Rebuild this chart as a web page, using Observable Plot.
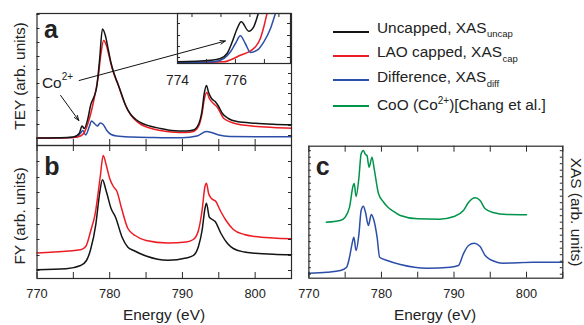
<!DOCTYPE html>
<html><head><meta charset="utf-8">
<script src="https://cdn.jsdelivr.net/npm/d3@7"></script>
<script src="https://cdn.jsdelivr.net/npm/@observablehq/plot@0.6"></script>
<style>
body{margin:0;background:#fff;font-family:"Liberation Sans",Arial,sans-serif;color:#222}
#root{position:relative;width:584px;height:325px;overflow:hidden;background:#fff}
.abs{position:absolute;white-space:nowrap;line-height:1}
.sw{position:absolute;height:2px;width:36px}
</style></head><body><div id="root"></div>
<script>
// ---------- ticks ----------
const xMajor = [770, 775, 780, 785, 790, 795, 800, 805];
const xLabels = [770, 780, 790, 800];
const insetBottomTicks = [775, 776, 777];
const insetTopTicks = [774.5, 775.5, 776.5, 777.5];
const insetLabels = [774, 776];
const yTicksA_left = [7, 21, 35, 48, 62, 76, 89, 103, 117, 131];
const yTicksA_right = [10, 20, 31, 41, 52, 62, 72];
const yTicksB = [8, 23, 39, 54, 70, 86, 101, 117];
const yTicksC = [4, 10.5, 17, 23.5, 30, 36.5, 43, 49.5, 56, 62.5, 69, 75.5, 82, 88.5, 95, 101.5, 108, 114.5, 121, 127.5];
const yTicksInset = [6, 17, 28, 40];

// ---------- panel a: TEY ----------
const eA_uncap = [770, 773, 775, 775.8, 776.2, 776.5, 777.0, 777.4, 777.8, 778.2, 778.6, 779.0, 779.4, 779.8, 780.2, 780.6, 781.0, 781.6, 782.2, 782.9, 783.6, 784.5, 785.5, 787, 788.5, 790.5, 791.5, 792.2, 792.7, 793.0, 793.3, 793.6, 794.0, 794.5, 794.9, 795.5, 796.3, 797.5, 800, 802.5, 805];
const teyUncap = [7.5, 7.8, 8.5, 12, 19.5, 17, 27, 41, 48, 58, 85, 116.5, 110, 96, 82, 72, 64, 52, 40, 31, 26, 22, 19.5, 17, 15, 14.5, 15.5, 21, 35, 52, 60, 53, 47, 44, 40, 32, 27, 24, 22.3, 21.3, 20.7];
const eA_cap = [770, 775, 776, 776.5, 777.0, 777.5, 778.0, 778.4, 778.8, 779.15, 779.5, 779.9, 780.3, 780.7, 781.2, 781.8, 782.5, 783.3, 784.3, 785.5, 787, 788.5, 790.5, 791.5, 792.2, 792.7, 793.0, 793.35, 793.7, 794.3, 794.8, 795.7, 797.1, 799.8, 802.5, 805];
const teyCap = [7.5, 8, 9.5, 13, 22, 35, 52, 68, 92, 105, 101, 90, 78, 69, 60, 47, 35, 27, 21, 17.5, 15, 13.5, 13, 14, 19, 32, 46, 53, 47, 41.7, 38.3, 27, 22.3, 19.3, 18, 17.3];
const eA_diff = [770, 774, 775.5, 776.0, 776.3, 776.7, 777.2, 777.5, 777.9, 778.3, 778.7, 779.1, 779.6, 780.2, 781, 783, 786, 790, 792, 793.3, 794, 795, 796.5, 800, 805];
const teyDiff = [7.2, 7.7, 8.5, 12.5, 15, 10.5, 19, 24.5, 22, 19.5, 22.5, 21, 15, 11, 9.5, 8.5, 8, 7.7, 9.5, 14, 13, 10.5, 9, 8.8, 8.8];

// ---------- inset ----------
const eI_uncap = [774.0, 775.14, 775.48, 775.71, 775.89, 776.06, 776.2, 776.46, 776.63, 776.77, 776.85];
const vI_uncap = [1.7, 3.3, 5, 10, 21.7, 35, 41.7, 32.3, 36.7, 48.3, 56];
const eI_cap = [774.0, 775.6, 775.94, 776.17, 776.46, 776.69, 776.86, 776.98, 777.09, 777.2];
const vI_cap = [0.7, 1.7, 5, 8.3, 11.7, 16.7, 25, 36.7, 50, 60];
const eI_diff = [774.0, 775.25, 775.6, 775.83, 776.0, 776.17, 776.34, 776.52, 776.75, 776.98, 777.21, 777.38, 777.5];
const vI_diff = [0.7, 1.7, 5, 11.7, 20, 27.7, 20, 11, 13.3, 21.7, 35, 50, 60];

// ---------- panel b: FY ----------
const eB_cap = [770, 776, 776.7, 777.4, 778.0, 778.7, 779.1, 779.5, 780.0, 780.5, 781.0, 781.6, 782.5, 783.5, 785, 788, 790.5, 791.5, 792.2, 792.7, 793.1, 793.3, 793.6, 794.0, 794.6, 795.2, 796.0, 797, 798.5, 800, 802.5, 805];
const fyCap = [25.5, 28.7, 32, 48, 64.7, 102, 123, 114, 100, 92, 87, 71, 50, 43, 38, 35.5, 36.5, 39, 48, 68, 92, 95.3, 85, 80, 77, 68, 58, 49, 44, 42, 40.5, 39.7];
const eB_uncap = [770, 774, 776, 776.8, 777.4, 778.1, 778.6, 779.0, 779.5, 780.2, 780.8, 781.7, 782.5, 783.3, 785, 788, 790.5, 791.5, 792.2, 792.7, 793.1, 793.3, 793.7, 794.0, 794.5, 795.3, 796.2, 797, 798.5, 800, 802.5, 805];
const fyUncap = [8.7, 9.7, 13, 18, 29.7, 54.7, 84.7, 98.7, 88, 69.7, 61.3, 41.3, 31.3, 28, 22.5, 18.2, 20.5, 23, 32, 48, 70, 75.3, 61.3, 59.5, 57, 45, 35, 30, 26.5, 25.3, 24.2, 23.7];

// ---------- panel c: XAS ----------
const eC_coo = [772.4, 774.3, 775.0, 775.6, 776.1, 776.25, 776.5, 776.9, 777.2, 777.5, 777.8, 778.0, 778.3, 778.7, 779.0, 779.6, 780.3, 780.9, 781.5, 782.6, 785, 788, 790, 791.3, 792.0, 792.9, 793.6, 794.3, 795.4, 797.3, 800];
const xasCoO = [56, 57.7, 61, 71, 92.7, 94.7, 81.7, 101, 124.4, 127.7, 123.7, 122.7, 111, 121, 109.4, 84.4, 76, 71, 67.7, 62.7, 59.4, 59, 61.7, 67.7, 75.7, 80.4, 77.7, 69.4, 65.7, 63.7, 63.5];
const eC_diff = [770, 772.5, 774.35, 775.2, 775.6, 775.95, 776.2, 776.5, 776.9, 777.2, 777.5, 777.8, 778.2, 778.6, 778.9, 779.4, 779.75, 780.8, 782.6, 786.3, 789.5, 790.6, 791.3, 792.0, 792.8, 793.6, 794.3, 795.9, 796.8, 800.9, 805];
const xasDiff = [5, 6, 7.7, 11, 21, 34.4, 41, 27.7, 44.4, 67.7, 72, 66, 52.7, 63.7, 59.4, 41, 21, 17.7, 13.7, 10, 11, 12.7, 24.4, 32.7, 35, 31.7, 22.7, 16, 15, 16, 16];

// annotation arrows (panel a data coordinates)
const coArrows = [
  {x1: 775.8, y1: 65, x2: 795.9, y2: 104.5},
  {x1: 773.25, y1: 50, x2: 775.75, y2: 25}
];

const legendItems = [
  {key: "uncap", html: 'Uncapped, XAS<span class="sub">uncap</span>'},
  {key: "cap", html: 'LAO capped, XAS<span class="sub">cap</span>'},
  {key: "diff", html: 'Difference, XAS<span class="sub">diff</span>'},
  {key: "coo", html: 'CoO (Co<span class="sup">2+</span>)[Chang et al.]'}
];
const colors = {uncap: "#141414", cap: "#ec1c24", diff: "#2c4ea8", coo: "#00934a"};

// ---------- helpers ----------
const zip = (es, vs) => es.map((e, i) => ({e, v: vs[i]}));
const root = document.getElementById("root");
const AX = "#2a2a2a";
const FONT = '"Liberation Sans", Arial, sans-serif';

function panel(o) {
  const pw = o.width - o.ml - o.mr, ph = o.height - o.mt - o.mb;
  const marks = [];
  for (const s of o.series) marks.push(Plot.line(s.data, {x: "e", y: "v", stroke: s.color, strokeWidth: 1.5, curve: "monotone-x", clip: !!o.clip}));
  marks.push(Plot.frame({stroke: AX, strokeWidth: 1.2}));
  const xl = o.xTickLen ?? 6, yl = o.yTickLen ?? 3;
  if (o.bottomTicks) marks.push(Plot.tickX(o.bottomTicks, {x: d => d, insetTop: ph - xl, stroke: AX}));
  if (o.topTicks) marks.push(Plot.tickX(o.topTicks, {x: d => d, insetBottom: ph - xl, stroke: AX}));
  if (o.leftTicks) marks.push(Plot.tickY(o.leftTicks, {y: d => d, insetRight: pw - yl, stroke: AX}));
  if (o.rightTicks) marks.push(Plot.tickY(o.rightTicks, {y: d => d, insetLeft: pw - yl, stroke: AX}));
  if (o.labels) marks.push(Plot.text(o.labels, {x: d => d, text: d => String(d), frameAnchor: "bottom", dy: o.labelDy, fontSize: o.labelSize, lineAnchor: "middle", fill: "#222"}));
  if (o.extra) marks.push(...o.extra);
  const svg = Plot.plot({
    width: o.width, height: o.height,
    marginTop: o.mt, marginRight: o.mr, marginBottom: o.mb, marginLeft: o.ml,
    x: {domain: o.xdom, axis: null},
    y: {domain: o.ydom, axis: null},
    style: {background: "transparent", overflow: "visible", fontFamily: FONT, color: "#222"},
    marks
  });
  svg.style.position = "absolute";
  svg.style.left = o.left + "px";
  svg.style.top = o.top + "px";
  root.appendChild(svg);
  return svg;
}

function text(html, cx, cy, size, rot = 0, weight = "normal") {
  const d = document.createElement("div");
  d.className = "abs";
  d.innerHTML = html;
  d.style.fontSize = size + "px";
  d.style.fontWeight = weight;
  d.style.left = cx + "px";
  d.style.top = cy + "px";
  d.style.transform = `translate(-50%,-50%) rotate(${rot}deg)`;
  root.appendChild(d);
}
function textAt(html, left, baseline, size, weight = "normal") {
  const d = document.createElement("div");
  d.className = "abs";
  d.innerHTML = html;
  d.style.fontSize = size + "px";
  d.style.fontWeight = weight;
  d.style.left = left + "px";
  d.style.top = (baseline - 0.847 * size) + "px";
  root.appendChild(d);
}

// ---------- panel a ----------
panel({
  left: 0, top: 0, width: 300, height: 150, mt: 13, mr: 9, mb: 5, ml: 36.5,
  xdom: [770, 805], ydom: [0, 132],
  series: [
    {data: zip(eA_diff, teyDiff), color: colors.diff},
    {data: zip(eA_cap, teyCap), color: colors.cap},
    {data: zip(eA_uncap, teyUncap), color: colors.uncap}
  ],
  bottomTicks: xMajor, leftTicks: yTicksA_left, rightTicks: yTicksA_right,
  extra: [Plot.arrow(coArrows, {x1: "x1", y1: "y1", x2: "x2", y2: "y2", stroke: "#111", strokeWidth: 1, headLength: 8, headAngle: 40})]
});

// ---------- inset ----------
panel({
  left: 150, top: 0, width: 150, height: 95, mt: 13, mr: 10, mb: 32, ml: 27,
  xdom: [774, 777.9], ydom: [0, 50], clip: true,
  series: [
    {data: zip(eI_cap, vI_cap), color: colors.cap},
    {data: zip(eI_diff, vI_diff), color: colors.diff},
    {data: zip(eI_uncap, vI_uncap), color: colors.uncap}
  ],
  bottomTicks: insetBottomTicks, topTicks: insetTopTicks, xTickLen: 4,
  leftTicks: yTicksInset, rightTicks: yTicksInset,
  labels: insetLabels, labelDy: 17, labelSize: 13.8
});

// ---------- panel b ----------
panel({
  left: 0, top: 140, width: 300, height: 185, mt: 5, mr: 9, mb: 47, ml: 36.5,
  xdom: [770, 805], ydom: [0, 133],
  series: [
    {data: zip(eB_uncap, fyUncap), color: colors.uncap},
    {data: zip(eB_cap, fyCap), color: colors.cap}
  ],
  bottomTicks: xMajor, topTicks: xMajor, leftTicks: yTicksB, rightTicks: yTicksB,
  labels: xLabels, labelDy: 15.3, labelSize: 12.8
});

// ---------- panel c ----------
panel({
  left: 300, top: 140, width: 284, height: 185, mt: 5.7, mr: 21.7, mb: 47.3, ml: 8.4,
  xdom: [770, 805], ydom: [0, 132],
  series: [
    {data: zip(eC_diff, xasDiff), color: colors.diff},
    {data: zip(eC_coo, xasCoO), color: colors.coo}
  ],
  bottomTicks: xMajor, topTicks: xMajor, leftTicks: yTicksC, rightTicks: yTicksC, yTickLen: 2.5,
  labels: xLabels, labelDy: 15.6, labelSize: 12.8
});

// ---------- text ----------
const style = document.createElement("style");
style.textContent = `.sub{font-size:9.5px;position:relative;top:4.5px;margin-left:0.5px}.sup{font-size:10px;position:relative;top:-6.5px}`;
document.head.appendChild(style);

text("TEY (arb. units)", 19.5, 76, 15.4, -90);
text("FY (arb. units)", 19.5, 215.5, 15.4, -90);
text("XAS (arb. units)", 575.5, 212, 15.4, 90);
text("Energy (eV)", 164, 314.5, 15.4);
text("Energy (eV)", 435, 314.5, 15.4);

textAt("a", 44, 38.3, 25, "bold");
textAt("b", 44.2, 175, 25, "bold");
textAt("c", 315.7, 175, 25, "bold");
textAt('Co<span style="font-size:10px;position:relative;top:-8px">2+</span>', 42, 88.3, 15.4);

// legend
const rows = [{base: 33, line: 31}, {base: 57.5, line: 55}, {base: 82.5, line: 79}, {base: 110.5, line: 105}];
legendItems.forEach((it, i) => {
  const ln = document.createElement("div");
  ln.className = "sw";
  ln.style.left = "333px";
  ln.style.top = rows[i].line + "px";
  ln.style.background = colors[it.key];
  root.appendChild(ln);
  textAt(it.html, 377, rows[i].base, 15.4);
});
</script></body></html>
